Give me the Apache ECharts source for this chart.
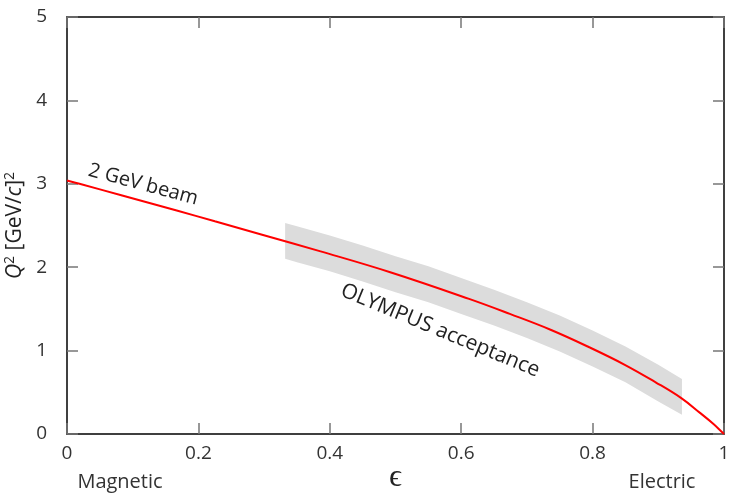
<!DOCTYPE html>
<html>
<head>
<meta charset="utf-8">
<script src="https://cdn.jsdelivr.net/npm/echarts@6/dist/echarts.min.js"></script>
<style>
  html, body { margin: 0; padding: 0; background: #fff; }
  #chart { width: 729px; height: 494px; }
</style>
</head>
<body>
<div id="chart"></div>
<script>
// red curve: 2 GeV beam, Q^2 vs epsilon
const beamEps = [0, 0.019, 0.084, 0.167, 0.225, 0.297, 0.386, 0.492, 0.612, 0.674, 0.736, 0.795, 0.849, 0.896, 0.935, 0.964, 0.984, 0.996, 1];
const beamQ2 = [3.04, 3.00, 2.86, 2.68, 2.55, 2.39, 2.19, 1.94, 1.62, 1.44, 1.25, 1.04, 0.83, 0.62, 0.43, 0.25, 0.12, 0.03, 0];

// grey band: OLYMPUS acceptance
const bandEps = [0.332, 0.35, 0.4, 0.45, 0.5, 0.55, 0.6, 0.65, 0.7, 0.75, 0.8, 0.85, 0.9, 0.936];
const bandUpper = [2.53, 2.49, 2.38, 2.26, 2.13, 2.01, 1.87, 1.73, 1.58, 1.42, 1.24, 1.05, 0.83, 0.66];
const bandLower = [2.10, 2.06, 1.95, 1.83, 1.70, 1.58, 1.44, 1.30, 1.15, 0.99, 0.81, 0.62, 0.39, 0.23];

const xTicks = [0, 0.2, 0.4, 0.6, 0.8, 1];
const yTicks = [0, 1, 2, 3, 4, 5];

const font = 'Open Sans';
const chart = echarts.init(document.getElementById('chart'));

const axisCommon = {
    type: 'value',
    axisLine: { show: true, onZero: false, lineStyle: { color: '#000', width: 1.5 } },
    axisTick: { show: true, inside: true, length: 11, lineStyle: { color: '#777', width: 1.5 } },
    splitLine: { show: false },
};

let option = {
    animation: false,
    grid: { left: 67, right: 5, top: 17, bottom: 60, outerBoundsMode: 'none', containLabel: false },
    xAxis: [
        {
            ...axisCommon, position: 'bottom', min: 0, max: 1, interval: 0.2,
            name: 'ϵ', nameLocation: 'middle', nameGap: 43, nameMoveOverlap: false,
            nameTextStyle: { fontFamily: font, fontSize: 32, color: '#222', verticalAlign: 'middle', lineHeight: 32 },
            axisLabel: {
                margin: 10, fontFamily: font, fontSize: 19, color: '#333',
                formatter: v => xTicks.includes(v) ? String(v) : ''
            }
        },
        { ...axisCommon, position: 'top', min: 0, max: 1, interval: 0.2, axisLabel: { show: false } }
    ],
    yAxis: [
        {
            ...axisCommon, position: 'left', min: 0, max: 5, interval: 1,
            name: '{i|Q}{s|2} [GeV/{i|c}]{s|2}', nameLocation: 'middle', nameGap: 32, nameRotate: 90,
            nameTextStyle: {
                fontFamily: font, fontSize: 21, color: '#222',
                rich: {
                    i: { fontFamily: font, fontSize: 21, fontStyle: 'italic', color: '#222' },
                    s: { fontFamily: font, fontSize: 14, color: '#222', padding: [0, 0, 10, 0] }
                }
            },
            axisLabel: {
                margin: 20, fontFamily: font, fontSize: 19, color: '#333',
                formatter: v => yTicks.includes(v) ? String(v) : ''
            }
        },
        { ...axisCommon, position: 'right', min: 0, max: 5, interval: 1, axisLabel: { show: false } }
    ],
    series: [
        {
            type: 'custom',
            xAxisIndex: 0, yAxisIndex: 0,
            data: [0],
            silent: true,
            z: 1,
            renderItem: (params, api) => {
                const pts = [];
                bandEps.forEach((e, i) => pts.push(api.coord([e, bandUpper[i]])));
                for (let i = bandEps.length - 1; i >= 0; i--) pts.push(api.coord([bandEps[i], bandLower[i]]));
                return { type: 'polygon', shape: { points: pts }, style: { fill: '#dcdcdc' } };
            }
        },
        {
            type: 'line',
            data: beamEps.map((e, i) => [e, beamQ2[i]]),
            smooth: 0.4,
            symbol: 'none',
            z: 3,
            lineStyle: { color: '#ff0000', width: 2 }
        }
    ]
};
chart.setOption(option);

// free text labels placed in data space
const p1 = chart.convertToPixel({ gridIndex: 0 }, [0.116, 2.99]);
const p2 = chart.convertToPixel({ gridIndex: 0 }, [0.568, 1.24]);
chart.setOption({
    graphic: [
        { type: 'text', x: p1[0], y: p1[1], rotation: -15 * Math.PI / 180,
          style: { text: '2 GeV beam', font: '20px ' + font, fill: '#222', align: 'center', verticalAlign: 'middle' } },
        { type: 'text', x: p2[0], y: p2[1], rotation: -22.5 * Math.PI / 180,
          style: { text: 'OLYMPUS acceptance', font: '21px ' + font, fill: '#222', align: 'center', verticalAlign: 'middle' } },
        { type: 'text', x: 120, y: 482,
          style: { text: 'Magnetic', font: '20px ' + font, fill: '#333', align: 'center', verticalAlign: 'middle' } },
        { type: 'text', x: 662, y: 482,
          style: { text: 'Electric', font: '20px ' + font, fill: '#333', align: 'center', verticalAlign: 'middle' } }
    ]
});
</script>
</body>
</html>
